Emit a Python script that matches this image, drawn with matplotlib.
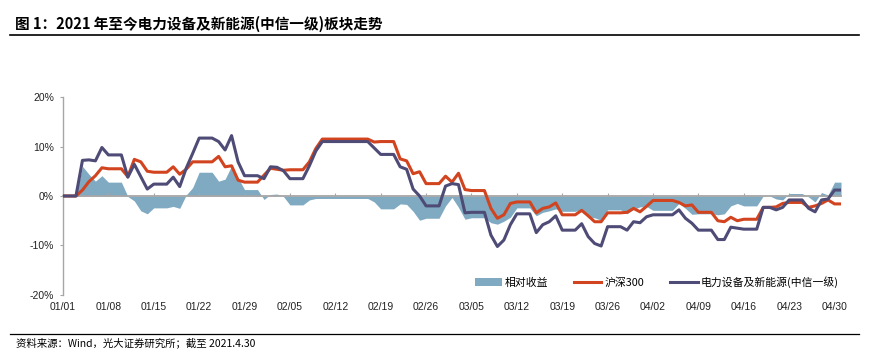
import numpy as np
import pandas as pd
import matplotlib
matplotlib.use("Agg")
import matplotlib.pyplot as plt

plt.rcParams['font.family'] = ['Noto Sans CJK SC', 'DejaVu Sans']

# daily values 2021-01-01 .. 2021-05-01, percent
hs300 = [0, 0, 0, 1.2, 2.9, 4.1, 5.7, 5.5, 5.5, 5.5,
         3.9, 7.4, 6.9, 5.0, 4.8, 4.8, 4.8, 5.9, 4.4, 5.4,
         6.9, 6.9, 6.9, 6.9, 8.0, 5.9, 6.1, 3.2, 2.8, 2.8,
         2.8, 4.2, 5.6, 5.4, 5.2, 5.3, 5.3, 5.3, 6.9, 9.6,
         11.5, 11.5, 11.5, 11.5, 11.5, 11.5, 11.5, 11.5, 10.9, 11.0,
         11.0, 11.0, 7.5, 7.1, 4.5, 4.9, 2.5, 2.5, 2.5, 4.0,
         2.8, 4.6, 1.3, 1.1, 1.1, 1.1, -2.5, -4.5, -3.8, -1.5,
         -1.2, -1.2, -1.2, -3.4, -2.5, -2.2, -1.4, -3.8, -3.8, -3.8,
         -2.9, -4.0, -5.2, -5.2, -3.4, -3.4, -3.4, -3.3, -2.5, -3.2,
         -2.1, -0.9, -0.9, -0.9, -0.9, -1.3, -2.0, -1.8, -3.3, -3.3,
         -3.3, -5.0, -5.2, -4.3, -5.0, -4.7, -4.7, -4.7, -2.3, -2.3,
         -2.2, -1.5, -1.3, -1.3, -1.3, -2.3, -2.0, -1.5, -0.8, -1.6,
         -1.6]

sector = [0, 0, 0, 7.2, 7.3, 7.1, 9.8, 8.3, 8.3, 8.3,
          3.8, 6.4, 3.9, 1.4, 2.4, 2.4, 2.4, 3.8, 1.9, 5.6,
          8.6, 11.7, 11.7, 11.7, 11.0, 9.3, 12.2, 6.9, 4.1, 4.1,
          4.1, 3.5, 5.9, 5.8, 5.1, 3.5, 3.5, 3.5, 6.1, 9.1,
          11.0, 11.0, 11.0, 11.0, 11.0, 11.0, 11.0, 11.0, 9.7, 8.4,
          8.4, 8.4, 5.9, 5.4, 1.4, 0.0, -2.0, -2.0, -2.0, 2.0,
          2.5, 2.3, -3.4, -3.3, -3.3, -3.3, -7.9, -10.2, -8.9, -5.8,
          -3.6, -3.6, -3.6, -7.4, -5.8, -5.2, -4.0, -6.9, -6.9, -6.9,
          -5.6, -8.2, -9.6, -10.1, -6.2, -6.2, -6.2, -6.9, -5.2, -5.4,
          -4.2, -3.8, -3.8, -3.8, -3.8, -2.8, -4.5, -5.5, -6.9, -6.9,
          -6.9, -8.8, -8.8, -6.3, -6.5, -6.7, -6.7, -6.7, -2.3, -2.3,
          -2.8, -2.3, -0.8, -0.8, -0.8, -2.5, -3.2, -0.8, -0.6, 1.2,
          1.2]

tick_labels = ["01/01", "01/08", "01/15", "01/22", "01/29", "02/05", "02/12",
               "02/19", "02/26", "03/05", "03/12", "03/19", "03/26", "04/02",
               "04/09", "04/16", "04/23", "04/30"]
y_ticks = [-20, -10, 0, 10, 20]

dates = pd.date_range("2021-01-01", periods=len(hs300), freq="D")
hs300 = np.array(hs300)
sector = np.array(sector)
relative = sector - hs300

c_area = "#80AAC2"
c_red = "#D2441F"
c_purple = "#4E4B76"
c_axis = "#A6A6A6"

fig = plt.figure(figsize=(8.69, 3.64), dpi=100)
ax = fig.add_axes([0.0725, 0.1896, 0.8953, 0.5439])

ax.fill_between(dates, relative, 0, color=c_area, linewidth=0, label="相对收益", zorder=1)
ax.plot(dates, hs300, color=c_red, lw=2.2, label="沪深300", zorder=3)
ax.plot(dates, sector, color=c_purple, lw=2.2, label="电力设备及新能源(中信一级)", zorder=4)

ax.set_xlim(dates[0], dates[-1])
ax.set_ylim(-20, 20)
ax.set_yticks(y_ticks, labels=[f"{v}%" for v in y_ticks])
ax.set_xticks(dates[::7], labels=tick_labels)

for s in ["top", "right"]:
    ax.spines[s].set_visible(False)
ax.spines["left"].set_color(c_axis)
ax.spines["left"].set_linewidth(1.0)
ax.spines["bottom"].set_position(("data", 0))
ax.spines["bottom"].set_color(c_axis)
ax.spines["bottom"].set_linewidth(1.3)
ax.spines["bottom"].set_zorder(2)

# x labels sit at the bottom of the plot while the axis line is at 0%
half_h = ax.get_position().height * fig.get_figheight() * 72 / 2
ax.tick_params(axis="x", direction="in", length=2.5, color=c_axis,
               pad=half_h + 5, labelsize=7.5, labelcolor="#222222")
ax.tick_params(axis="y", direction="out", length=2.5, color=c_axis,
               pad=4, labelsize=7.5, labelcolor="#222222")
for lab in ax.get_xticklabels() + ax.get_yticklabels():
    lab.set_fontfamily(["Liberation Sans", "DejaVu Sans"])

ax.legend(loc="center", bbox_to_anchor=(0.763, 0.067), ncol=3, frameon=False,
          fontsize=7.8, handlelength=2.5, handletextpad=0.3, columnspacing=2.4,
          borderpad=0)

fig.text(0.0172, 0.934, "图 1：2021 年至今电力设备及新能源(中信一级)板块走势",
         fontsize=10.5, fontweight="bold", va="center", ha="left")
fig.add_artist(plt.Line2D([0.0115, 0.988], [0.905, 0.905], color="black", lw=1.2))
fig.add_artist(plt.Line2D([0.0115, 0.988], [0.0824, 0.0824], color="black", lw=0.9))
fig.text(0.0184, 0.058, "资料来源：Wind，光大证券研究所；截至 2021.4.30",
         fontsize=7.5, va="center", ha="left")

fig.savefig("out.png", dpi=100)
